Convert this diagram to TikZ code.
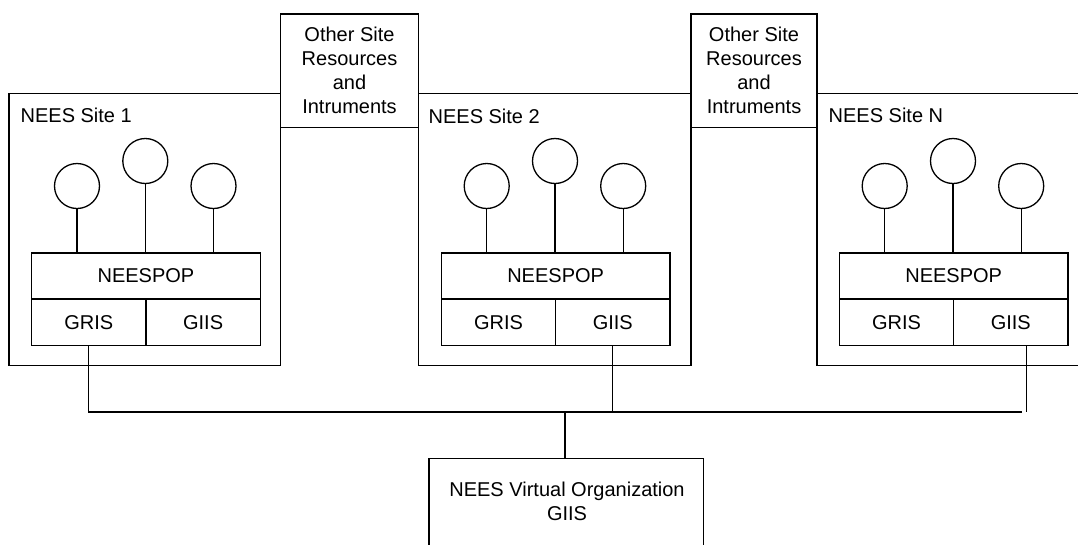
\documentclass[tikz,border=0pt]{standalone}
\usepackage{fontspec}
\setmainfont{Liberation Sans}
\begin{document}
\begin{tikzpicture}[x=1pt,y=-1pt,line width=1.3pt,
  every node/.style={font=\fontsize{20}{24}\selectfont},
  popbox/.style={draw,inner sep=0,minimum width=228.6pt,minimum height=45.4pt},
  cellbox/.style={draw,inner sep=0,minimum width=114.3pt,minimum height=45.6pt},
  dev/.style={draw,circle,inner sep=0,minimum size=45pt},
  lbl/.style={anchor=west,inner sep=0},
  otherbox/.style={draw,align=center,inner sep=0,minimum height=113.5pt}]
\useasboundingbox (0,0) rectangle (1078,544);
\clip (0,0) rectangle (1078,544);
% site frames
\draw (9,93.5) rectangle (280.5,365.5);
\draw (418.5,93.5) rectangle (691,365.5);
\draw (817,93.5) rectangle (1090,365.5);
% other resources
\node[otherbox,minimum width=138pt] (other1) at (349.5,70.75) {Other Site\\Resources\\and\\Intruments};
\node[otherbox,minimum width=126pt] (other2) at (754,70.75) {Other Site\\Resources\\and\\Intruments};
% labels
\node[lbl] (site1lbl) at (20,115) {NEES Site 1};
\node[lbl] (site2lbl) at (428,116) {NEES Site 2};
\node[lbl] (siteNlbl) at (828,115) {NEES Site N};
% sites content
\foreach \i/\x in {1/31,2/440.7,N/838.7}{
  \node[popbox,anchor=north west] (pop\i) at (\x,252.3) {NEESPOP};
  \node[cellbox,anchor=north west] (gris\i) at (pop\i.south west) {GRIS};
  \node[cellbox,anchor=north east] (giis\i) at (pop\i.south east) {GIIS};
  \node[dev] (ca\i) at (\x+46,186) {};
  \node[dev] (cb\i) at (\x+114.3,161) {};
  \node[dev] (cc\i) at (\x+182.5,186) {};
  \draw (ca\i) -- (ca\i |- pop\i.north);
  \draw (cb\i) -- (cb\i |- pop\i.north);
  \draw (cc\i) -- (cc\i |- pop\i.north);
}
% bus
\coordinate (bus) at (0,412);
\coordinate (busend) at (1022,412);
\coordinate (tapN) at (1026.7,412);
\draw (gris1.south) -- (gris1.south |- bus) -- (busend);
\draw (giis2.south) -- (giis2.south |- bus);
\draw (giisN.south -| tapN) -- (tapN);
% virtual organization
\draw (429,560) |- (703.3,458.3) -- (703.3,560);
\coordinate (votop) at (565,458.3);
\draw (votop |- bus) -- (votop);
\node[align=center,font=\fontsize{20}{23.5}\selectfont] (vo) at (567,501.5) {NEES Virtual Organization\\GIIS};
\end{tikzpicture}
\end{document}
